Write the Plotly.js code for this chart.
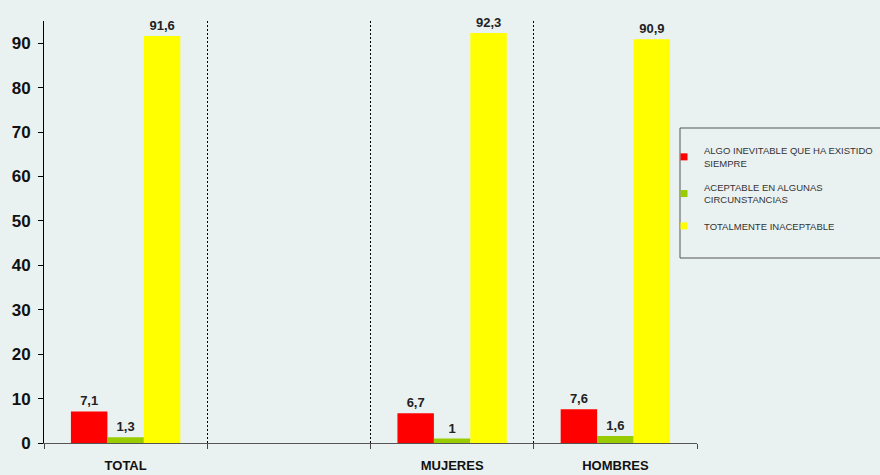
<!DOCTYPE html>
<html>
<head>
<meta charset="utf-8">
<script src="https://cdn.plot.ly/plotly-3.0.1.min.js"></script>
<style>html,body{margin:0;padding:0;background:#EAF1F1;}#chart{width:880px;height:475px;}</style>
</head>
<body>
<div id="chart"></div>
<script>
const categories = ["TOTAL", " ", "MUJERES", "HOMBRES"];
const seriesNames = ["ALGO INEVITABLE QUE HA EXISTIDO<br>SIEMPRE", "ACEPTABLE EN ALGUNAS<br>CIRCUNSTANCIAS", "TOTALMENTE INACEPTABLE"];
const inevitable = [7.1, null, 6.7, 7.6];
const aceptable = [1.3, null, 1.0, 1.6];
const inaceptable = [91.6, null, 92.3, 90.9];
const colors = ["#FF0000", "#99CC00", "#FFFF00"];
const yTicks = [0, 10, 20, 30, 40, 50, 60, 70, 80, 90];

const FONT = "Liberation Sans, Arial, sans-serif";
const allValues = [inevitable, aceptable, inaceptable];
const groups = ["g1", "g2", "g3"];

const barTraces = allValues.map((vals, i) => ({
  type: "bar",
  name: seriesNames[i],
  x: categories,
  y: vals,
  marker: {color: colors[i]},
  text: vals.map(v => v === null ? "" : String(v).replace(".", ",")),
  textposition: "outside",
  cliponaxis: false,
  textfont: {family: FONT, size: 13, color: "#222", weight: "bold"},
  showlegend: false,
  legendgroup: groups[i],
  hoverinfo: "skip"
}));

// legend-only entries with small square swatches
const legendTraces = seriesNames.map((name, i) => ({
  type: "scatter",
  mode: "markers",
  name: name,
  x: [null], y: [null],
  marker: {symbol: "square", size: 7, color: colors[i]},
  legendgroup: groups[i],
  showlegend: true,
  hoverinfo: "skip"
}));

const layout = {
  width: 880, height: 475,
  paper_bgcolor: "#EAF1F1",
  plot_bgcolor: "#EAF1F1",
  margin: {l: 44, r: 183, t: 21, b: 32, autoexpand: false},
  barmode: "group",
  bargap: 0.33,
  bargroupgap: 0,
  separators: ",.",
  showlegend: true,
  legend: {
    x: (664 - 44) / 653, xanchor: "left", y: (443 - 138) / 422, yanchor: "top",
    bgcolor: "rgba(0,0,0,0)", borderwidth: 0,
    font: {family: FONT, size: 9.5, color: "#333"},
    itemwidth: 30, tracegroupgap: 9, traceorder: "grouped"
  },
  shapes: [{
    type: "rect", xref: "paper", yref: "paper",
    x0: (680 - 44) / 653, x1: (890 - 44) / 653,
    y0: (443 - 258) / 422, y1: (443 - 128) / 422,
    fillcolor: "#EAF1F1", line: {color: "#555", width: 1}, layer: "above"
  }],
  xaxis: {
    type: "category",
    categoryorder: "array", categoryarray: categories,
    tickson: "boundaries",
    ticks: "outside", ticklen: 5, tickcolor: "#444",
    showgrid: true, gridcolor: "#000", griddash: "2px,2px", gridwidth: 1,
    showline: true, linecolor: "#555", linewidth: 1,
    tickfont: {family: FONT, size: 13, color: "#111", weight: "bold"},
    ticklabelstandoff: 10,
    zeroline: false
  },
  yaxis: {
    range: [0, 95],
    tickvals: yTicks,
    ticks: "outside", ticklen: 5, tickcolor: "#000",
    showgrid: false, zeroline: false,
    showline: true, linecolor: "#000", linewidth: 1,
    tickfont: {family: FONT, size: 17, color: "#111", weight: "bold"},
    ticklabelstandoff: 4
  }
};

Plotly.newPlot("chart", barTraces.concat(legendTraces), layout, {displayModeBar: false, staticPlot: true});
</script>
</body>
</html>
